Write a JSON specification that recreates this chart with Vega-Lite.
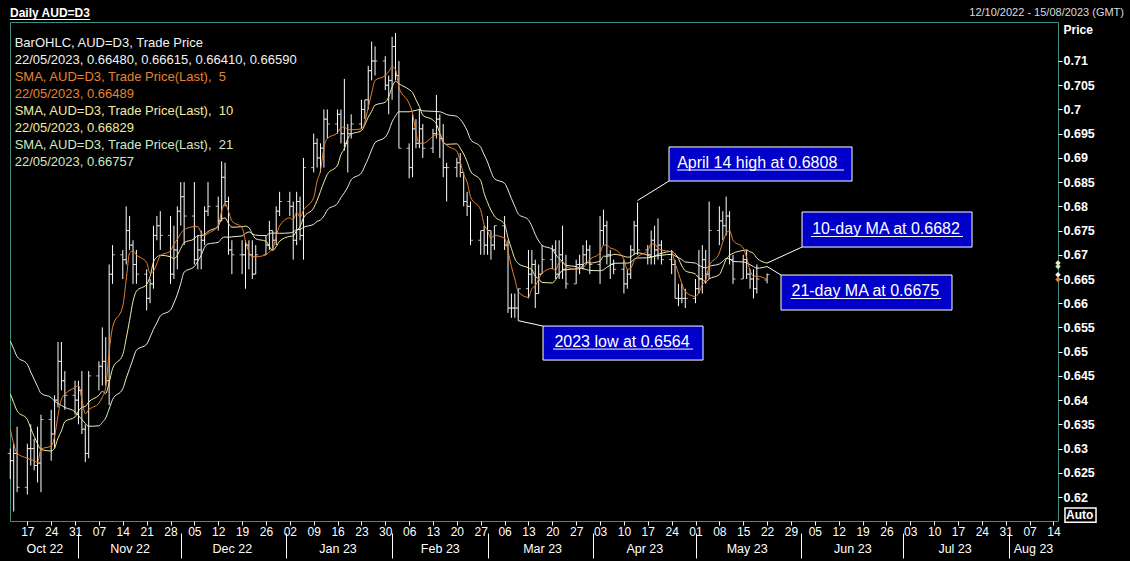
{
  "$schema": "https://vega.github.io/schema/vega-lite/v6.json",
  "width": 1048,
  "height": 499,
  "autosize": {"type": "none"},
  "padding": {"left": 10, "top": 22, "right": 72, "bottom": 40},
  "background": "#000000",
  "config": {
    "view": {"stroke": "#3d8c82", "strokeWidth": 1, "fill": "#000000"},
    "text": {"font": "Liberation Sans"}
  },
  "datasets": {
    "px": [
      {"d":"2022-10-12","o":0.6290,"h":0.6300,"l":0.6237,"c":0.6275,"s5":0.6340,"s10":0.6413,"s21":0.6522},
      {"d":"2022-10-13","o":0.6275,"h":0.6310,"l":0.6170,"c":0.6290,"s5":0.6310,"s10":0.6395,"s21":0.6506},
      {"d":"2022-10-14","o":0.6290,"h":0.6345,"l":0.6210,"c":0.6220,"s5":0.6290,"s10":0.6378,"s21":0.6490},
      {"d":"2022-10-17","o":0.6220,"h":0.6310,"l":0.6205,"c":0.6300,"s5":0.6280,"s10":0.6360,"s21":0.6474},
      {"d":"2022-10-18","o":0.6300,"h":0.6350,"l":0.6265,"c":0.6300,"s5":0.6277,"s10":0.6342,"s21":0.6458},
      {"d":"2022-10-19","o":0.6300,"h":0.6320,"l":0.6255,"c":0.6265,"s5":0.6275,"s10":0.6325,"s21":0.6443},
      {"d":"2022-10-20","o":0.6265,"h":0.6345,"l":0.6230,"c":0.6270,"s5":0.6271,"s10":0.6310,"s21":0.6428},
      {"d":"2022-10-21","o":0.6270,"h":0.6370,"l":0.6210,"c":0.6360,"s5":0.6299,"s10":0.6298,"s21":0.6414},
      {"d":"2022-10-24","o":0.6360,"h":0.6380,"l":0.6275,"c":0.6330,"s5":0.6305,"s10":0.6295,"s21":0.6405},
      {"d":"2022-10-25","o":0.6330,"h":0.6410,"l":0.6300,"c":0.6400,"s5":0.6325,"s10":0.6301,"s21":0.6398},
      {"d":"2022-10-26","o":0.6400,"h":0.6520,"l":0.6385,"c":0.6480,"s5":0.6368,"s10":0.63215,"s21":0.6393},
      {"d":"2022-10-27","o":0.6480,"h":0.6520,"l":0.6420,"c":0.6440,"s5":0.6402,"s10":0.63365,"s21":0.6389},
      {"d":"2022-10-28","o":0.6440,"h":0.6460,"l":0.6380,"c":0.6410,"s5":0.6412,"s10":0.63555,"s21":0.6385},
      {"d":"2022-10-31","o":0.6410,"h":0.6440,"l":0.6370,"c":0.6400,"s5":0.6426,"s10":0.63655,"s21":0.6376},
      {"d":"2022-11-01","o":0.6400,"h":0.6440,"l":0.6350,"c":0.6420,"s5":0.6430,"s10":0.63775,"s21":0.6368},
      {"d":"2022-11-02","o":0.6420,"h":0.6460,"l":0.6330,"c":0.6340,"s5":0.6402,"s10":0.6385,"s21":0.6360},
      {"d":"2022-11-03","o":0.6340,"h":0.6350,"l":0.6272,"c":0.6290,"s5":0.6372,"s10":0.6387,"s21":0.6352},
      {"d":"2022-11-04","o":0.6290,"h":0.6460,"l":0.6280,"c":0.6450,"s5":0.6380,"s10":0.6396,"s21":0.6346},
      {"d":"2022-11-07","o":0.6450,"h":0.6480,"l":0.6420,"c":0.6470,"s5":0.6394,"s10":0.6410,"s21":0.6347},
      {"d":"2022-11-08","o":0.6470,"h":0.6550,"l":0.6430,"c":0.6480,"s5":0.6406,"s10":0.6418,"s21":0.6354},
      {"d":"2022-11-09","o":0.6480,"h":0.6530,"l":0.6430,"c":0.6440,"s5":0.6426,"s10":0.6414,"s21":0.63633},
      {"d":"2022-11-10","o":0.6440,"h":0.6680,"l":0.6390,"c":0.6660,"s5":0.6500,"s10":0.6436,"s21":0.63817},
      {"d":"2022-11-11","o":0.6660,"h":0.6720,"l":0.6640,"c":0.6700,"s5":0.6550,"s10":0.6465,"s21":0.64012},
      {"d":"2022-11-14","o":0.6700,"h":0.6710,"l":0.6650,"c":0.6690,"s5":0.6594,"s10":0.6494,"s21":0.64236},
      {"d":"2022-11-15","o":0.6690,"h":0.6800,"l":0.6680,"c":0.6750,"s5":0.6648,"s10":0.6527,"s21":0.6445},
      {"d":"2022-11-16","o":0.6750,"h":0.6780,"l":0.6710,"c":0.6720,"s5":0.6704,"s10":0.6565,"s21":0.6465},
      {"d":"2022-11-17","o":0.6720,"h":0.6730,"l":0.6640,"c":0.6680,"s5":0.6708,"s10":0.6604,"s21":0.64848},
      {"d":"2022-11-18","o":0.6680,"h":0.6710,"l":0.6640,"c":0.6660,"s5":0.6700,"s10":0.6625,"s21":0.65033},
      {"d":"2022-11-21","o":0.6660,"h":0.6670,"l":0.6585,"c":0.6610,"s5":0.6684,"s10":0.6639,"s21":0.65152},
      {"d":"2022-11-22","o":0.6610,"h":0.6650,"l":0.6600,"c":0.6640,"s5":0.6662,"s10":0.6655,"s21":0.6530},
      {"d":"2022-11-23","o":0.6640,"h":0.6760,"l":0.6630,"c":0.6740,"s5":0.6666,"s10":0.6685,"s21":0.65462},
      {"d":"2022-11-24","o":0.6740,"h":0.6780,"l":0.6730,"c":0.6760,"s5":0.6682,"s10":0.6695,"s21":0.65595},
      {"d":"2022-11-25","o":0.6760,"h":0.6790,"l":0.6710,"c":0.6740,"s5":0.6698,"s10":0.6699,"s21":0.65738},
      {"d":"2022-11-28","o":0.6740,"h":0.6780,"l":0.6640,"c":0.6660,"s5":0.6708,"s10":0.6696,"s21":0.65857},
      {"d":"2022-11-29","o":0.6660,"h":0.6760,"l":0.6650,"c":0.6710,"s5":0.6722,"s10":0.6692,"s21":0.66005},
      {"d":"2022-11-30","o":0.6710,"h":0.6800,"l":0.6670,"c":0.6790,"s5":0.6732,"s10":0.6699,"s21":0.66181},
      {"d":"2022-12-01","o":0.6790,"h":0.6850,"l":0.6760,"c":0.6820,"s5":0.6744,"s10":0.6713,"s21":0.6641},
      {"d":"2022-12-02","o":0.6820,"h":0.6850,"l":0.6720,"c":0.6780,"s5":0.6752,"s10":0.6725,"s21":0.66643},
      {"d":"2022-12-05","o":0.6780,"h":0.6850,"l":0.6680,"c":0.6690,"s5":0.6758,"s10":0.6733,"s21":0.66757},
      {"d":"2022-12-06","o":0.6690,"h":0.6740,"l":0.6670,"c":0.6710,"s5":0.6758,"s10":0.6740,"s21":0.66871},
      {"d":"2022-12-07","o":0.6710,"h":0.6750,"l":0.6670,"c":0.6730,"s5":0.6746,"s10":0.6739,"s21":0.6699},
      {"d":"2022-12-08","o":0.6730,"h":0.6800,"l":0.6720,"c":0.6790,"s5":0.6740,"s10":0.6742,"s21":0.67157},
      {"d":"2022-12-09","o":0.6790,"h":0.6850,"l":0.6780,"c":0.6800,"s5":0.6744,"s10":0.6748,"s21":0.67224},
      {"d":"2022-12-12","o":0.6800,"h":0.6820,"l":0.6750,"c":0.6770,"s5":0.6760,"s10":0.6759,"s21":0.67257},
      {"d":"2022-12-13","o":0.6770,"h":0.6893,"l":0.6770,"c":0.6860,"s5":0.6790,"s10":0.6774,"s21":0.67338},
      {"d":"2022-12-14","o":0.6860,"h":0.6890,"l":0.6800,"c":0.6810,"s5":0.6806,"s10":0.6776,"s21":0.67367},
      {"d":"2022-12-15","o":0.6810,"h":0.6820,"l":0.6700,"c":0.6710,"s5":0.6790,"s10":0.6765,"s21":0.67362},
      {"d":"2022-12-16","o":0.6710,"h":0.6730,"l":0.6660,"c":0.6700,"s5":0.6770,"s10":0.6757,"s21":0.67371},
      {"d":"2022-12-19","o":0.6700,"h":0.6730,"l":0.6660,"c":0.6700,"s5":0.6756,"s10":0.6758,"s21":0.6739},
      {"d":"2022-12-20","o":0.6700,"h":0.6730,"l":0.6630,"c":0.6720,"s5":0.6728,"s10":0.6759,"s21":0.67443},
      {"d":"2022-12-21","o":0.6720,"h":0.6730,"l":0.6670,"c":0.6700,"s5":0.6706,"s10":0.6756,"s21":0.67471},
      {"d":"2022-12-22","o":0.6700,"h":0.6730,"l":0.6650,"c":0.6660,"s5":0.6696,"s10":0.6743,"s21":0.67433},
      {"d":"2022-12-23","o":0.6660,"h":0.6720,"l":0.6660,"c":0.6700,"s5":0.6696,"s10":0.6733,"s21":0.67405},
      {"d":"2022-12-26","o":0.6700,"h":0.6740,"l":0.6700,"c":0.6720,"s5":0.6700,"s10":0.6728,"s21":0.67395},
      {"d":"2022-12-27","o":0.6720,"h":0.6770,"l":0.6710,"c":0.6750,"s5":0.6706,"s10":0.6717,"s21":0.67438},
      {"d":"2022-12-28","o":0.6750,"h":0.6750,"l":0.6710,"c":0.6730,"s5":0.6712,"s10":0.6709,"s21":0.67448},
      {"d":"2022-12-29","o":0.6730,"h":0.6800,"l":0.6720,"c":0.6790,"s5":0.6738,"s10":0.6717,"s21":0.67448},
      {"d":"2022-12-30","o":0.6790,"h":0.6830,"l":0.6780,"c":0.6810,"s5":0.6760,"s10":0.6728,"s21":0.67443},
      {"d":"2023-01-02","o":0.6810,"h":0.6830,"l":0.6780,"c":0.6800,"s5":0.6776,"s10":0.6738,"s21":0.67452},
      {"d":"2023-01-03","o":0.6800,"h":0.6810,"l":0.6690,"c":0.6730,"s5":0.6772,"s10":0.6739,"s21":0.67471},
      {"d":"2023-01-04","o":0.6730,"h":0.6830,"l":0.6720,"c":0.6810,"s5":0.6788,"s10":0.6750,"s21":0.67519},
      {"d":"2023-01-05","o":0.6810,"h":0.6820,"l":0.6730,"c":0.6740,"s5":0.6778,"s10":0.6758,"s21":0.67524},
      {"d":"2023-01-06","o":0.6740,"h":0.6900,"l":0.6690,"c":0.6880,"s5":0.6792,"s10":0.6776,"s21":0.67567},
      {"d":"2023-01-09","o":0.6880,"h":0.6950,"l":0.6870,"c":0.6930,"s5":0.6818,"s10":0.6797,"s21":0.67629},
      {"d":"2023-01-10","o":0.6930,"h":0.6940,"l":0.6880,"c":0.6900,"s5":0.6852,"s10":0.6812,"s21":0.6769},
      {"d":"2023-01-11","o":0.6900,"h":0.6930,"l":0.6870,"c":0.6920,"s5":0.6874,"s10":0.6831,"s21":0.67719},
      {"d":"2023-01-12","o":0.6920,"h":0.7000,"l":0.6880,"c":0.6980,"s5":0.6922,"s10":0.6850,"s21":0.6780},
      {"d":"2023-01-13","o":0.6980,"h":0.7000,"l":0.6940,"c":0.6970,"s5":0.6940,"s10":0.6866,"s21":0.67924},
      {"d":"2023-01-16","o":0.6970,"h":0.7000,"l":0.6950,"c":0.6990,"s5":0.6952,"s10":0.6885,"s21":0.68062},
      {"d":"2023-01-17","o":0.6990,"h":0.7000,"l":0.6930,"c":0.6950,"s5":0.6962,"s10":0.6907,"s21":0.68181},
      {"d":"2023-01-18","o":0.6950,"h":0.7063,"l":0.6915,"c":0.6930,"s5":0.6964,"s10":0.6919,"s21":0.68281},
      {"d":"2023-01-19","o":0.6930,"h":0.6970,"l":0.6870,"c":0.6950,"s5":0.6958,"s10":0.6940,"s21":0.6840},
      {"d":"2023-01-20","o":0.6950,"h":0.6990,"l":0.6940,"c":0.6970,"s5":0.6958,"s10":0.6949,"s21":0.68548},
      {"d":"2023-01-23","o":0.6970,"h":0.7020,"l":0.6960,"c":0.7000,"s5":0.6960,"s10":0.6956,"s21":0.6869},
      {"d":"2023-01-24","o":0.7000,"h":0.7020,"l":0.6980,"c":0.7020,"s5":0.6974,"s10":0.6968,"s21":0.68833},
      {"d":"2023-01-25","o":0.7020,"h":0.7090,"l":0.7000,"c":0.7080,"s5":0.7004,"s10":0.6984,"s21":0.6899},
      {"d":"2023-01-26","o":0.7080,"h":0.7140,"l":0.7060,"c":0.7100,"s5":0.7034,"s10":0.6996,"s21":0.69167},
      {"d":"2023-01-27","o":0.7100,"h":0.7130,"l":0.7070,"c":0.7100,"s5":0.7060,"s10":0.7009,"s21":0.69314},
      {"d":"2023-01-30","o":0.7100,"h":0.7110,"l":0.7040,"c":0.7050,"s5":0.7070,"s10":0.7015,"s21":0.69429},
      {"d":"2023-01-31","o":0.7050,"h":0.7070,"l":0.6990,"c":0.7060,"s5":0.7078,"s10":0.7026,"s21":0.69552},
      {"d":"2023-02-01","o":0.7060,"h":0.7150,"l":0.7020,"c":0.7130,"s5":0.7088,"s10":0.7046,"s21":0.69743},
      {"d":"2023-02-02","o":0.7130,"h":0.7158,"l":0.7060,"c":0.7070,"s5":0.7082,"s10":0.7058,"s21":0.69867},
      {"d":"2023-02-03","o":0.7070,"h":0.7100,"l":0.6920,"c":0.6920,"s5":0.7046,"s10":0.7053,"s21":0.69952},
      {"d":"2023-02-06","o":0.6920,"h":0.6930,"l":0.6858,"c":0.6880,"s5":0.7012,"s10":0.7041,"s21":0.69952},
      {"d":"2023-02-07","o":0.6880,"h":0.6990,"l":0.6860,"c":0.6960,"s5":0.6992,"s10":0.7035,"s21":0.69967},
      {"d":"2023-02-08","o":0.6960,"h":0.6980,"l":0.6920,"c":0.6930,"s5":0.6952,"s10":0.7020,"s21":0.69981},
      {"d":"2023-02-09","o":0.6930,"h":0.7000,"l":0.6920,"c":0.6960,"s5":0.6930,"s10":0.7006,"s21":0.7000},
      {"d":"2023-02-10","o":0.6960,"h":0.6970,"l":0.6900,"c":0.6920,"s5":0.6930,"s10":0.6988,"s21":0.69971},
      {"d":"2023-02-13","o":0.6920,"h":0.6960,"l":0.6910,"c":0.6950,"s5":0.6944,"s10":0.6978,"s21":0.69962},
      {"d":"2023-02-14","o":0.6950,"h":0.7030,"l":0.6940,"c":0.6980,"s5":0.6948,"s10":0.6970,"s21":0.69957},
      {"d":"2023-02-15","o":0.6980,"h":0.6990,"l":0.6900,"c":0.6940,"s5":0.6950,"s10":0.6951,"s21":0.69952},
      {"d":"2023-02-16","o":0.6940,"h":0.6970,"l":0.6860,"c":0.6880,"s5":0.6934,"s10":0.6932,"s21":0.69929},
      {"d":"2023-02-17","o":0.6880,"h":0.6890,"l":0.6810,"c":0.6880,"s5":0.6926,"s10":0.6928,"s21":0.69895},
      {"d":"2023-02-20","o":0.6880,"h":0.6900,"l":0.6860,"c":0.6890,"s5":0.6914,"s10":0.6929,"s21":0.69857},
      {"d":"2023-02-21","o":0.6890,"h":0.6910,"l":0.6860,"c":0.6870,"s5":0.6892,"s10":0.6920,"s21":0.69795},
      {"d":"2023-02-22","o":0.6870,"h":0.6870,"l":0.6800,"c":0.6810,"s5":0.6866,"s10":0.6908,"s21":0.69695},
      {"d":"2023-02-23","o":0.6810,"h":0.6830,"l":0.6780,"c":0.6800,"s5":0.6850,"s10":0.6892,"s21":0.69562},
      {"d":"2023-02-24","o":0.6800,"h":0.6810,"l":0.6720,"c":0.6730,"s5":0.6820,"s10":0.6873,"s21":0.69386},
      {"d":"2023-02-27","o":0.6730,"h":0.6750,"l":0.6700,"c":0.6750,"s5":0.6792,"s10":0.6853,"s21":0.69219},
      {"d":"2023-02-28","o":0.6750,"h":0.6760,"l":0.6700,"c":0.6720,"s5":0.6762,"s10":0.6827,"s21":0.69062},
      {"d":"2023-03-01","o":0.6720,"h":0.6780,"l":0.6700,"c":0.6750,"s5":0.6750,"s10":0.6808,"s21":0.68914},
      {"d":"2023-03-02","o":0.6750,"h":0.6750,"l":0.6690,"c":0.6720,"s5":0.6734,"s10":0.6792,"s21":0.68719},
      {"d":"2023-03-03","o":0.6720,"h":0.6760,"l":0.6710,"c":0.6760,"s5":0.6740,"s10":0.6780,"s21":0.68571},
      {"d":"2023-03-06","o":0.6760,"h":0.6780,"l":0.6710,"c":0.6720,"s5":0.6734,"s10":0.6763,"s21":0.68476},
      {"d":"2023-03-07","o":0.6720,"h":0.6730,"l":0.6580,"c":0.6590,"s5":0.6708,"s10":0.6735,"s21":0.68338},
      {"d":"2023-03-08","o":0.6590,"h":0.6620,"l":0.6570,"c":0.6590,"s5":0.6676,"s10":0.6713,"s21":0.68162},
      {"d":"2023-03-09","o":0.6590,"h":0.6620,"l":0.6570,"c":0.6590,"s5":0.6650,"s10":0.6692,"s21":0.6800},
      {"d":"2023-03-10","o":0.6590,"h":0.6630,"l":0.6564,"c":0.6630,"s5":0.6624,"s10":0.6682,"s21":0.67843},
      {"d":"2023-03-13","o":0.6630,"h":0.6710,"l":0.6610,"c":0.6660,"s5":0.6612,"s10":0.6673,"s21":0.67719},
      {"d":"2023-03-14","o":0.6660,"h":0.6710,"l":0.6640,"c":0.6680,"s5":0.6630,"s10":0.6669,"s21":0.6759},
      {"d":"2023-03-15","o":0.6680,"h":0.6690,"l":0.6590,"c":0.6620,"s5":0.6636,"s10":0.6656,"s21":0.67419},
      {"d":"2023-03-16","o":0.6620,"h":0.6680,"l":0.6620,"c":0.6660,"s5":0.6650,"s10":0.6650,"s21":0.67286},
      {"d":"2023-03-17","o":0.6660,"h":0.6720,"l":0.6660,"c":0.6690,"s5":0.6662,"s10":0.6643,"s21":0.67195},
      {"d":"2023-03-20","o":0.6690,"h":0.6720,"l":0.6670,"c":0.6710,"s5":0.6672,"s10":0.6642,"s21":0.67114},
      {"d":"2023-03-21","o":0.6710,"h":0.6730,"l":0.6650,"c":0.6660,"s5":0.6668,"s10":0.6649,"s21":0.67005},
      {"d":"2023-03-22","o":0.6660,"h":0.6730,"l":0.6650,"c":0.6700,"s5":0.6684,"s10":0.6660,"s21":0.66924},
      {"d":"2023-03-23","o":0.6700,"h":0.6760,"l":0.6650,"c":0.6670,"s5":0.6686,"s10":0.6668,"s21":0.66857},
      {"d":"2023-03-24","o":0.6670,"h":0.6700,"l":0.6630,"c":0.6640,"s5":0.6676,"s10":0.6669,"s21":0.66781},
      {"d":"2023-03-27","o":0.6640,"h":0.6690,"l":0.6640,"c":0.6680,"s5":0.6670,"s10":0.6671,"s21":0.66757},
      {"d":"2023-03-28","o":0.6680,"h":0.6700,"l":0.6660,"c":0.6680,"s5":0.6674,"s10":0.6671,"s21":0.66724},
      {"d":"2023-03-29","o":0.6680,"h":0.6720,"l":0.6670,"c":0.6700,"s5":0.6674,"s10":0.6679,"s21":0.66714},
      {"d":"2023-03-30","o":0.6700,"h":0.6730,"l":0.6680,"c":0.6710,"s5":0.6682,"s10":0.6684,"s21":0.66695},
      {"d":"2023-03-31","o":0.6710,"h":0.6720,"l":0.6660,"c":0.6680,"s5":0.6690,"s10":0.6683,"s21":0.66676},
      {"d":"2023-04-03","o":0.6680,"h":0.6780,"l":0.6640,"c":0.6750,"s5":0.6704,"s10":0.6687,"s21":0.66671},
      {"d":"2023-04-04","o":0.6750,"h":0.6793,"l":0.6720,"c":0.6760,"s5":0.6720,"s10":0.6697,"s21":0.6669},
      {"d":"2023-04-05","o":0.6760,"h":0.6770,"l":0.6680,"c":0.6700,"s5":0.6720,"s10":0.6697,"s21":0.66743},
      {"d":"2023-04-06","o":0.6700,"h":0.6710,"l":0.6650,"c":0.6680,"s5":0.6714,"s10":0.6698,"s21":0.66786},
      {"d":"2023-04-07","o":0.6680,"h":0.6690,"l":0.6660,"c":0.6670,"s5":0.6712,"s10":0.6701,"s21":0.66824},
      {"d":"2023-04-10","o":0.6670,"h":0.6690,"l":0.6620,"c":0.6640,"s5":0.6690,"s10":0.6697,"s21":0.66829},
      {"d":"2023-04-11","o":0.6640,"h":0.6670,"l":0.6630,"c":0.6660,"s5":0.6670,"s10":0.6695,"s21":0.66829},
      {"d":"2023-04-12","o":0.6660,"h":0.6720,"l":0.6650,"c":0.6710,"s5":0.6672,"s10":0.6696,"s21":0.66843},
      {"d":"2023-04-13","o":0.6710,"h":0.6770,"l":0.6700,"c":0.6760,"s5":0.6688,"s10":0.6701,"s21":0.6691},
      {"d":"2023-04-14","o":0.6760,"h":0.6808,"l":0.6700,"c":0.6710,"s5":0.6696,"s10":0.6704,"s21":0.66933},
      {"d":"2023-04-17","o":0.6710,"h":0.6720,"l":0.6680,"c":0.6700,"s5":0.6708,"s10":0.6699,"s21":0.66938},
      {"d":"2023-04-18","o":0.6700,"h":0.6750,"l":0.6680,"c":0.6730,"s5":0.6722,"s10":0.6696,"s21":0.66948},
      {"d":"2023-04-19","o":0.6730,"h":0.6760,"l":0.6680,"c":0.6710,"s5":0.6722,"s10":0.6697,"s21":0.66971},
      {"d":"2023-04-20","o":0.6710,"h":0.6775,"l":0.6690,"c":0.6720,"s5":0.6714,"s10":0.6701,"s21":0.66981},
      {"d":"2023-04-21","o":0.6720,"h":0.6730,"l":0.6680,"c":0.6690,"s5":0.6710,"s10":0.6703,"s21":0.6699},
      {"d":"2023-04-24","o":0.6690,"h":0.6710,"l":0.6660,"c":0.6680,"s5":0.6706,"s10":0.6707,"s21":0.6701},
      {"d":"2023-04-25","o":0.6680,"h":0.6690,"l":0.6610,"c":0.6610,"s5":0.6682,"s10":0.6702,"s21":0.66976},
      {"d":"2023-04-26","o":0.6610,"h":0.6640,"l":0.6594,"c":0.6610,"s5":0.6662,"s10":0.6692,"s21":0.66943},
      {"d":"2023-04-27","o":0.6610,"h":0.6640,"l":0.6600,"c":0.6610,"s5":0.6640,"s10":0.6677,"s21":0.6690},
      {"d":"2023-04-28","o":0.6610,"h":0.6630,"l":0.6590,"c":0.6610,"s5":0.6624,"s10":0.6667,"s21":0.66852},
      {"d":"2023-05-01","o":0.6610,"h":0.6650,"l":0.6600,"c":0.6630,"s5":0.6614,"s10":0.6660,"s21":0.66829},
      {"d":"2023-05-02","o":0.6630,"h":0.6710,"l":0.6620,"c":0.6650,"s5":0.6622,"s10":0.6652,"s21":0.66781},
      {"d":"2023-05-03","o":0.6650,"h":0.6720,"l":0.6620,"c":0.6690,"s5":0.6638,"s10":0.6650,"s21":0.66748},
      {"d":"2023-05-04","o":0.6690,"h":0.6710,"l":0.6640,"c":0.6660,"s5":0.6648,"s10":0.6644,"s21":0.66729},
      {"d":"2023-05-05","o":0.6660,"h":0.6810,"l":0.6650,"c":0.6750,"s5":0.6676,"s10":0.6650,"s21":0.66762},
      {"d":"2023-05-08","o":0.6750,"h":0.6800,"l":0.6720,"c":0.6770,"s5":0.6704,"s10":0.6659,"s21":0.6681},
      {"d":"2023-05-09","o":0.6770,"h":0.6790,"l":0.6730,"c":0.6760,"s5":0.6726,"s10":0.6674,"s21":0.66867},
      {"d":"2023-05-10","o":0.6760,"h":0.6820,"l":0.6740,"c":0.6780,"s5":0.6744,"s10":0.6691,"s21":0.66924},
      {"d":"2023-05-11","o":0.6780,"h":0.6790,"l":0.6680,"c":0.6690,"s5":0.6750,"s10":0.6699,"s21":0.66914},
      {"d":"2023-05-12","o":0.6690,"h":0.6700,"l":0.6640,"c":0.6650,"s5":0.6730,"s10":0.6703,"s21":0.66862},
      {"d":"2023-05-15","o":0.6650,"h":0.6700,"l":0.6650,"c":0.6690,"s5":0.6714,"s10":0.6709,"s21":0.66852},
      {"d":"2023-05-16","o":0.6690,"h":0.6710,"l":0.6650,"c":0.6660,"s5":0.6694,"s10":0.6710,"s21":0.66833},
      {"d":"2023-05-17","o":0.6660,"h":0.6670,"l":0.6630,"c":0.6650,"s5":0.6668,"s10":0.6706,"s21":0.66795},
      {"d":"2023-05-18","o":0.6650,"h":0.6670,"l":0.6610,"c":0.6630,"s5":0.6656,"s10":0.6703,"s21":0.66757},
      {"d":"2023-05-19","o":0.6630,"h":0.6680,"l":0.6620,"c":0.6650,"s5":0.6656,"s10":0.6693,"s21":0.66724},
      {"d":"2023-05-22","o":0.6648,"h":0.66615,"l":0.6641,"c":0.6659,"s5":0.66489,"s10":0.66829,"s21":0.66757}
    ],
    "notes": [
      {"label":"April 14 high at 0.6808","t0":"2023-04-23T05:30:00Z","t1":"2023-06-15T21:50:00Z","p0":0.68523,"p1":0.69225,"tx":"2023-05-19T02:30:00Z","tp":0.68801,"u0":"2023-04-25T14:00:00Z","u1":"2023-06-13T13:40:00Z","up":0.6875,"a_t":"2023-04-14T00:00:00Z","a_p":0.6812,"b_t":"2023-04-23T05:30:00Z","b_p":0.68523},
      {"label":"10-day MA at 0.6682","t0":"2023-06-01T06:00:00Z","t1":"2023-07-21T02:40:00Z","p0":0.6716,"p1":0.67883,"tx":"2023-06-25T21:20:00Z","tp":0.67439,"u0":"2023-06-03T21:10:00Z","u1":"2023-07-18T11:20:00Z","up":0.67377,"a_t":"2023-05-22T00:00:00Z","a_p":0.66829,"b_t":"2023-06-01T06:00:00Z","b_p":0.6716},
      {"label":"21-day MA at 0.6675","t0":"2023-05-26T02:00:00Z","t1":"2023-07-15T05:45:00Z","p0":0.6586,"p1":0.66582,"tx":"2023-06-19T19:30:00Z","tp":0.66149,"u0":"2023-05-28T22:20:00Z","u1":"2023-07-12T00:30:00Z","up":0.66097,"a_t":"2023-05-22T00:00:00Z","a_p":0.66757,"b_t":"2023-05-26T02:00:00Z","b_p":0.66582},
      {"label":"2023 low at 0.6564","t0":"2023-03-17T06:30:00Z","t1":"2023-05-03T04:50:00Z","p0":0.64827,"p1":0.65529,"tx":"2023-04-09T10:30:00Z","tp":0.65106,"u0":"2023-03-20T04:50:00Z","u1":"2023-04-30T06:30:00Z","up":0.65054,"a_t":"2023-03-10T00:00:00Z","a_p":0.6564,"b_t":"2023-03-17T06:30:00Z","b_p":0.65529}
    ],
    "legend": [
      {"txt":"BarOHLC, AUD=D3, Trade Price","k":"bar","d":"2022-10-13","p":0.71372},
      {"txt":"22/05/2023, 0.66480, 0.66615, 0.66410, 0.66590","k":"bar","d":"2022-10-13","p":0.71021},
      {"txt":"SMA, AUD=D3, Trade Price(Last), \u00a05","k":"sma5","d":"2022-10-13","p":0.7067},
      {"txt":"22/05/2023, 0.66489","k":"sma5","d":"2022-10-13","p":0.70319},
      {"txt":"SMA, AUD=D3, Trade Price(Last), \u00a010","k":"sma10","d":"2022-10-13","p":0.69968},
      {"txt":"22/05/2023, 0.66829","k":"sma10","d":"2022-10-13","p":0.69617},
      {"txt":"SMA, AUD=D3, Trade Price(Last), \u00a021","k":"sma21","d":"2022-10-13","p":0.69266},
      {"txt":"22/05/2023, 0.66757","k":"sma21","d":"2022-10-13","p":0.68915}
    ],
    "last": [
      {"k":"sma10","p":0.66829},
      {"k":"sma21","p":0.66757},
      {"k":"bar","p":0.6659},
      {"k":"sma5","p":0.66489}
    ]
  },
  "resolve": {"axis": {"x": "independent", "y": "independent"}},
  "layer": [
    {
      "data": {"name": "px"},
      "mark": {"type": "rule", "color": "#ffffff", "strokeWidth": 1},
      "encoding": {
        "x": {
          "field": "d", "type": "temporal",
          "scale": {"type": "utc", "nice": false, "domain": [{"year": 2022, "month": 10, "date": 11, "hours": 22, "utc": true}, {"year": 2023, "month": 8, "date": 15, "hours": 8, "utc": true}]},
          "axis": {
            "orient": "bottom", "format": "%d", "title": null, "grid": false, "domain": false,
            "tickColor": "#ffffff", "tickSize": 4, "labelPadding": 1, "labelColor": "#ffffff",
            "labelFont": "Liberation Sans", "labelFontSize": 12, "labelFlush": false, "labelOverlap": false,
            "values": [
              {"year": 2022, "month": 10, "date": 17, "utc": true}, {"year": 2022, "month": 10, "date": 24, "utc": true},
              {"year": 2022, "month": 10, "date": 31, "utc": true}, {"year": 2022, "month": 11, "date": 7, "utc": true},
              {"year": 2022, "month": 11, "date": 14, "utc": true}, {"year": 2022, "month": 11, "date": 21, "utc": true},
              {"year": 2022, "month": 11, "date": 28, "utc": true}, {"year": 2022, "month": 12, "date": 5, "utc": true},
              {"year": 2022, "month": 12, "date": 12, "utc": true}, {"year": 2022, "month": 12, "date": 19, "utc": true},
              {"year": 2022, "month": 12, "date": 26, "utc": true}, {"year": 2023, "month": 1, "date": 2, "utc": true},
              {"year": 2023, "month": 1, "date": 9, "utc": true}, {"year": 2023, "month": 1, "date": 16, "utc": true},
              {"year": 2023, "month": 1, "date": 23, "utc": true}, {"year": 2023, "month": 1, "date": 30, "utc": true},
              {"year": 2023, "month": 2, "date": 6, "utc": true}, {"year": 2023, "month": 2, "date": 13, "utc": true},
              {"year": 2023, "month": 2, "date": 20, "utc": true}, {"year": 2023, "month": 2, "date": 27, "utc": true},
              {"year": 2023, "month": 3, "date": 6, "utc": true}, {"year": 2023, "month": 3, "date": 13, "utc": true},
              {"year": 2023, "month": 3, "date": 20, "utc": true}, {"year": 2023, "month": 3, "date": 27, "utc": true},
              {"year": 2023, "month": 4, "date": 3, "utc": true}, {"year": 2023, "month": 4, "date": 10, "utc": true},
              {"year": 2023, "month": 4, "date": 17, "utc": true}, {"year": 2023, "month": 4, "date": 24, "utc": true},
              {"year": 2023, "month": 5, "date": 1, "utc": true}, {"year": 2023, "month": 5, "date": 8, "utc": true},
              {"year": 2023, "month": 5, "date": 15, "utc": true}, {"year": 2023, "month": 5, "date": 22, "utc": true},
              {"year": 2023, "month": 5, "date": 29, "utc": true}, {"year": 2023, "month": 6, "date": 5, "utc": true},
              {"year": 2023, "month": 6, "date": 12, "utc": true}, {"year": 2023, "month": 6, "date": 19, "utc": true},
              {"year": 2023, "month": 6, "date": 26, "utc": true}, {"year": 2023, "month": 7, "date": 3, "utc": true},
              {"year": 2023, "month": 7, "date": 10, "utc": true}, {"year": 2023, "month": 7, "date": 17, "utc": true},
              {"year": 2023, "month": 7, "date": 24, "utc": true}, {"year": 2023, "month": 7, "date": 31, "utc": true},
              {"year": 2023, "month": 8, "date": 7, "utc": true}, {"year": 2023, "month": 8, "date": 14, "utc": true}
            ]
          }
        },
        "y": {
          "field": "l", "type": "quantitative",
          "scale": {"domain": [0.61505, 0.71805], "nice": false, "zero": false},
          "axis": {
            "orient": "right", "format": ".3~f", "grid": false, "domain": false,
            "values": [0.62, 0.625, 0.63, 0.635, 0.64, 0.645, 0.65, 0.655, 0.66, 0.665, 0.67, 0.675, 0.68, 0.685, 0.69, 0.695, 0.7, 0.705, 0.71],
            "tickColor": "#ffffff", "tickSize": 4, "labelPadding": 1, "labelColor": "#ffffff",
            "labelFont": "Liberation Sans", "labelFontSize": 12.5, "labelFontWeight": "bold", "labelFlush": false,
            "labelOverlap": false,
            "title": "Price", "titleAngle": 0, "titleAlign": "left", "titleBaseline": "alphabetic",
            "titleX": 5, "titleY": 11, "titleColor": "#ffffff", "titleFont": "Liberation Sans",
            "titleFontSize": 12, "titleFontWeight": "bold"
          }
        },
        "y2": {"field": "h"}
      }
    },
    {
      "data": {"name": "px"},
      "mark": {"type": "tick", "orient": "horizontal", "size": 2.5, "thickness": 1, "xOffset": -1.3, "color": "#ffffff"},
      "encoding": {
        "x": {
          "field": "d", "type": "temporal",
          "axis": {
            "orient": "bottom", "format": "%b %y", "title": null, "grid": false, "domain": false,
            "ticks": false, "offset": 18, "labelPadding": 3, "labelColor": "#ffffff",
            "labelFont": "Liberation Sans", "labelFontSize": 12.5, "labelFlush": false, "labelOverlap": false,
            "values": [
              {"year": 2022, "month": 10, "date": 22, "utc": true}, {"year": 2022, "month": 11, "date": 16, "utc": true},
              {"year": 2022, "month": 12, "date": 16, "utc": true}, {"year": 2023, "month": 1, "date": 16, "utc": true},
              {"year": 2023, "month": 2, "date": 15, "utc": true}, {"year": 2023, "month": 3, "date": 17, "utc": true},
              {"year": 2023, "month": 4, "date": 16, "utc": true}, {"year": 2023, "month": 5, "date": 16, "utc": true},
              {"year": 2023, "month": 6, "date": 16, "utc": true}, {"year": 2023, "month": 7, "date": 16, "utc": true},
              {"year": 2023, "month": 8, "date": 8, "utc": true}
            ]
          }
        },
        "y": {"field": "o", "type": "quantitative", "axis": null}
      }
    },
    {
      "data": {"name": "px"},
      "mark": {"type": "tick", "orient": "horizontal", "size": 2.5, "thickness": 1, "xOffset": 1.3, "color": "#ffffff"},
      "encoding": {
        "x": {
          "field": "d", "type": "temporal",
          "axis": {
            "orient": "bottom", "title": null, "grid": false, "domain": false, "labels": false,
            "tickColor": "#ffffff", "tickSize": 25, "offset": 12,
            "values": [
              {"year": 2022, "month": 11, "date": 1, "utc": true}, {"year": 2022, "month": 12, "date": 1, "utc": true},
              {"year": 2023, "month": 1, "date": 1, "utc": true}, {"year": 2023, "month": 2, "date": 1, "utc": true},
              {"year": 2023, "month": 3, "date": 1, "utc": true}, {"year": 2023, "month": 4, "date": 1, "utc": true},
              {"year": 2023, "month": 5, "date": 1, "utc": true}, {"year": 2023, "month": 6, "date": 1, "utc": true},
              {"year": 2023, "month": 7, "date": 1, "utc": true}, {"year": 2023, "month": 8, "date": 1, "utc": true}
            ]
          }
        },
        "y": {"field": "c", "type": "quantitative", "axis": null}
      }
    },
    {
      "data": {"name": "px"},
      "mark": {"type": "line", "color": "#e3f1d8", "strokeWidth": 1, "interpolate": "monotone"},
      "encoding": {
        "x": {"field": "d", "type": "temporal", "axis": null},
        "y": {"field": "s21", "type": "quantitative", "axis": null}
      }
    },
    {
      "data": {"name": "px"},
      "mark": {"type": "line", "color": "#f3eca6", "strokeWidth": 1, "interpolate": "monotone"},
      "encoding": {
        "x": {"field": "d", "type": "temporal", "axis": null},
        "y": {"field": "s10", "type": "quantitative", "axis": null}
      }
    },
    {
      "data": {"name": "px"},
      "mark": {"type": "line", "color": "#e8822e", "strokeWidth": 1, "interpolate": "monotone"},
      "encoding": {
        "x": {"field": "d", "type": "temporal", "axis": null},
        "y": {"field": "s5", "type": "quantitative", "axis": null}
      }
    },
    {
      "data": {"name": "notes"},
      "mark": {"type": "rule", "color": "#ffffff", "strokeWidth": 1},
      "encoding": {
        "x": {"field": "a_t", "type": "temporal", "axis": null},
        "x2": {"field": "b_t"},
        "y": {"field": "a_p", "type": "quantitative", "axis": null},
        "y2": {"field": "b_p"}
      }
    },
    {
      "data": {"name": "notes"},
      "mark": {"type": "rect", "fill": "#0000c8", "stroke": "#ffffff", "strokeWidth": 1},
      "encoding": {
        "x": {"field": "t0", "type": "temporal", "axis": null},
        "x2": {"field": "t1"},
        "y": {"field": "p0", "type": "quantitative", "axis": null},
        "y2": {"field": "p1"}
      }
    },
    {
      "data": {"name": "notes"},
      "mark": {"type": "text", "color": "#ffffff", "fontSize": 16, "align": "center", "baseline": "alphabetic"},
      "encoding": {
        "x": {"field": "tx", "type": "temporal", "axis": null},
        "y": {"field": "tp", "type": "quantitative", "axis": null},
        "text": {"field": "label"}
      }
    },
    {
      "data": {"name": "notes"},
      "mark": {"type": "rule", "color": "#ffffff", "strokeWidth": 1},
      "encoding": {
        "x": {"field": "u0", "type": "temporal", "axis": null},
        "x2": {"field": "u1"},
        "y": {"field": "up", "type": "quantitative", "axis": null}
      }
    },
    {
      "data": {"name": "legend"},
      "mark": {"type": "text", "fontSize": 13, "align": "left", "baseline": "middle", "dx": 1},
      "encoding": {
        "x": {"field": "d", "type": "temporal", "axis": null},
        "y": {"field": "p", "type": "quantitative", "axis": null},
        "text": {"field": "txt"},
        "color": {
          "field": "k", "type": "nominal", "legend": null,
          "scale": {"domain": ["bar", "sma5", "sma10", "sma21"], "range": ["#f2f2f2", "#e8822e", "#f2eaa2", "#cfe9c6"]}
        }
      }
    },
    {
      "data": {"name": "last"},
      "mark": {"type": "point", "shape": "diamond", "filled": true, "size": 30, "opacity": 1},
      "encoding": {
        "x": {"datum": {"year": 2023, "month": 8, "date": 15, "hours": 8, "utc": true}, "type": "temporal", "axis": null},
        "y": {"field": "p", "type": "quantitative", "axis": null},
        "color": {"field": "k", "type": "nominal", "legend": null}
      }
    },
    {
      "data": {"values": [{"t": "Daily AUD=D3"}]},
      "mark": {"type": "text", "color": "#ffffff", "fontSize": 12, "fontWeight": "bold", "align": "left", "baseline": "alphabetic", "dy": -5},
      "encoding": {
        "x": {"datum": {"year": 2022, "month": 10, "date": 11, "hours": 22, "utc": true}, "type": "temporal", "axis": null},
        "y": {"datum": 0.71805, "type": "quantitative", "axis": null},
        "text": {"field": "t"}
      }
    },
    {
      "data": {"values": [{"t0": "2022-10-11T22:00:00Z", "t1": "2022-11-04T11:00:00Z", "p": 0.71805}]},
      "mark": {"type": "rule", "color": "#ffffff", "strokeWidth": 1, "yOffset": -2.5},
      "encoding": {
        "x": {"field": "t0", "type": "temporal", "axis": null},
        "x2": {"field": "t1"},
        "y": {"field": "p", "type": "quantitative", "axis": null}
      }
    },
    {
      "data": {"values": [{"t": "12/10/2022 - 15/08/2023 (GMT)"}]},
      "mark": {"type": "text", "color": "#dcdcdc", "fontSize": 11, "align": "right", "baseline": "alphabetic", "dx": 66, "dy": -6},
      "encoding": {
        "x": {"datum": {"year": 2023, "month": 8, "date": 15, "hours": 8, "utc": true}, "type": "temporal", "axis": null},
        "y": {"datum": 0.71805, "type": "quantitative", "axis": null},
        "text": {"field": "t"}
      }
    },
    {
      "data": {"values": [{"p": 0.61627}]},
      "mark": {"type": "point", "shape": "M-0.97,-0.44H0.97V0.44H-0.97Z", "filled": false, "size": 1024, "stroke": "#ffffff", "strokeWidth": 1.5, "opacity": 1, "xOffset": 22.5},
      "encoding": {
        "x": {"datum": {"year": 2023, "month": 8, "date": 15, "hours": 8, "utc": true}, "type": "temporal", "axis": null},
        "y": {"field": "p", "type": "quantitative", "axis": null}
      }
    },
    {
      "data": {"values": [{"t": "Auto"}]},
      "mark": {"type": "text", "color": "#ffffff", "fontSize": 12, "fontWeight": "bold", "align": "left", "baseline": "alphabetic", "dx": 8},
      "encoding": {
        "x": {"datum": {"year": 2023, "month": 8, "date": 15, "hours": 8, "utc": true}, "type": "temporal", "axis": null},
        "y": {"datum": 0.61545, "type": "quantitative", "axis": null},
        "text": {"field": "t"}
      }
    }
  ]
}
